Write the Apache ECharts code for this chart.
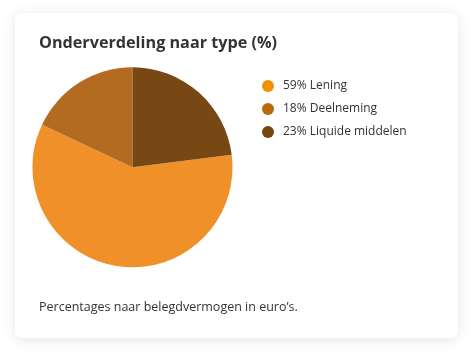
<!DOCTYPE html>
<html><head><meta charset="utf-8">
<script src="https://cdn.jsdelivr.net/npm/echarts@6/dist/echarts.min.js"></script>
<style>html,body{margin:0;padding:0;background:#fff}#c{width:474px;height:356px}</style>
</head><body><div id="c"></div>
<script>
const categories = ['Lening', 'Deelneming', 'Liquide middelen'];
const values = [59, 18, 23];
const pieColors = ['#EF9128', '#B26B20', '#774813'];
const legendColors = ['#F29100', '#B8690A', '#74450E'];
const titleText = 'Onderverdeling naar type (%)';
const footerText = 'Percentages naar belegdvermogen in euro\u2019s.';
const FONT = 'Open Sans';

const chart = echarts.init(document.getElementById('c'), null, {renderer: 'canvas'});
const data = categories.map((n, i) => ({name: n, value: values[i], itemStyle: {color: pieColors[i]}}));
chart.setOption({
  backgroundColor: '#ffffff',
  animation: false,
  graphic: [
    {type: 'rect', z: -1, shape: {x: 15, y: 13, width: 443, height: 325, r: 7},
     style: {fill: '#ffffff', shadowBlur: 14, shadowColor: 'rgba(0,0,0,0.10)', shadowOffsetY: 2}},
    {type: 'text', left: 39, top: 35, style: {text: titleText, font: 'bold 16.2px ' + FONT, fill: '#333333'}},
    {type: 'text', left: 39, top: 301, style: {text: footerText, font: '12.5px ' + FONT, fill: '#333333'}}
  ],
  legend: {
    orient: 'vertical', left: 257, top: 75, itemGap: 11, itemWidth: 12, itemHeight: 12,
    icon: 'circle', selectedMode: false,
    textStyle: {fontFamily: FONT, fontSize: 12, color: '#333333', padding: [0, 0, 0, 4]},
    formatter: function (name) { const i = categories.indexOf(name); return values[i] + '% ' + name; },
    data: categories.map((n, i) => ({name: n, itemStyle: {color: legendColors[i]}}))
  },
  series: [{
    type: 'pie', center: [132.5, 167.3], radius: [0, 100], startAngle: 90 - values[2] * 3.6,
    clockwise: true, label: {show: false}, labelLine: {show: false}, silent: true,
    itemStyle: {borderWidth: 0},
    data: data
  }]
});
</script></body></html>
